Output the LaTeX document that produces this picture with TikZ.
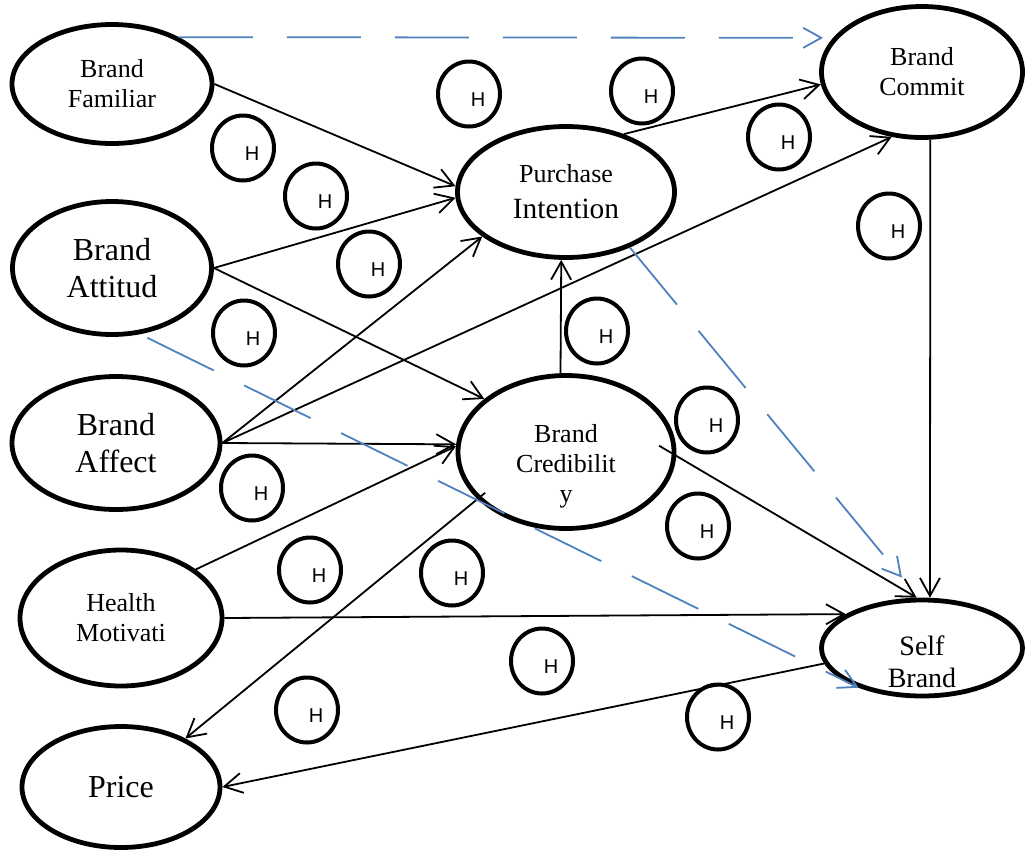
\documentclass[tikz,border=0pt]{standalone}
\usepackage{fontspec}
\setmainfont{Liberation Serif}
\newfontfamily\hypfont{Liberation Sans}
\usetikzlibrary{arrows.meta,shapes.geometric}
\definecolor{linkblue}{HTML}{4F81BD}
\newcommand{\smalltxt}{\fontsize{13}{15}\selectfont}
\newcommand{\largetxt}{\fontsize{16}{18.5}\selectfont}
\tikzset{
  construct/.style={
    ellipse,
    draw=black,
    line width=2.4pt,
    inner sep=0pt,
    align=center,
    font=\smalltxt
  },
  bigconstruct/.style={
    construct,
    font=\largetxt
  },
  lowtext/.style={
    font=\smalltxt,
    align=center,
    yshift=-7pt
  },
  hypo/.style={
    ellipse,
    draw=black,
    line width=2pt,
    minimum width=31pt,
    minimum height=32.5pt,
    inner sep=0pt,
    label={[font=\hypfont\fontsize{10}{12}\selectfont, xshift=4.5pt, yshift=-3pt]center:H}
  },
  arrow/.style={
    -{Straight Barb[length=9pt,width=10pt]},
    line width=0.9pt,
    draw=black
  },
  dasharrow/.style={
    arrow,
    draw=linkblue,
    dash pattern=on 37pt off 17pt
  }
}

\begin{document}
\begin{tikzpicture}[x=0.5pt, y=-0.5pt]
\useasboundingbox (0,0) rectangle (1028,852);

\node[construct, minimum width=100pt, minimum height=59.5pt] (familiar) at (112,84) {Brand\\Familiar};
\node[bigconstruct, minimum width=99.5pt, minimum height=66.5pt] (attitude) at (112,268) {Brand\\Attitud};
\node[bigconstruct, minimum width=104pt, minimum height=66.5pt] (affect) at (116,443) {Brand\\Affect};
\node[construct, minimum width=101pt, minimum height=68pt] (health) at (121,618) {Health\\Motivati};
\node[bigconstruct, minimum width=99pt, minimum height=60.5pt] (price) at (121,787) {Price};
\node[construct, minimum width=108.5pt, minimum height=65.5pt] (intention) at (566,192)
  {Purchase\\[3pt]{\fontsize{14.7}{17}\selectfont Intention}};
\node[construct, minimum width=108pt, minimum height=76.5pt,
  label={[lowtext]center:Brand\\Credibilit\\y}] (credibility) at (566,452) {};
\node[construct, minimum width=100.5pt, minimum height=65.5pt] (commitment) at (922,72) {Brand\\Commit};
\node[construct, minimum width=100.5pt, minimum height=48pt,
  label={[lowtext, font=\fontsize{14}{16}\selectfont]center:Self\\Brand}] (selfbrand) at (922,648) {};

\foreach \hx/\hy [count=\i] in {469/94, 642/91, 243/148, 316/196, 779/137, 889/226, 369/264,
  244/333, 597/331, 707/420, 252/488, 698/526, 310/570, 452/573, 542/661, 307/710, 718/717}
  \node[hypo] (h\i) at (\hx,\hy) {};

\draw[arrow] (familiar.east) -- (intention.177);
\draw[arrow] (attitude.east) -- (intention.183);
\draw[arrow] (attitude.east) -- (credibility.147);
\draw[arrow] (affect.east) -- (intention.208);
\draw[arrow] (affect.east) -- (commitment.245);
\draw[arrow] (affect.east) -- (credibility.176);
\draw[arrow] (health.33) -- (credibility.177);
\draw[arrow] (health.east) -- (selfbrand.156);
\draw[arrow] (credibility.94) -- (intention.266);
\draw[arrow, shorten <=-5pt] (credibility.208) -- (price.37);
\draw[arrow, shorten <=-10pt] (credibility.358) -- (selfbrand.96);
\draw[arrow] (intention.45) -- (commitment.187);
\draw[arrow] (commitment.277) -- (selfbrand.81);
\draw[arrow] (selfbrand.189) -- (price.east);

\draw[dasharrow, shorten >=5pt] (familiar.35) -- (commitment.159);
\draw[dasharrow, shorten >=13pt] (intention.319) -- (selfbrand.94);
\draw[dasharrow, shorten <=4pt] (attitude.293) -- (selfbrand.212);
\end{tikzpicture}
\end{document}
